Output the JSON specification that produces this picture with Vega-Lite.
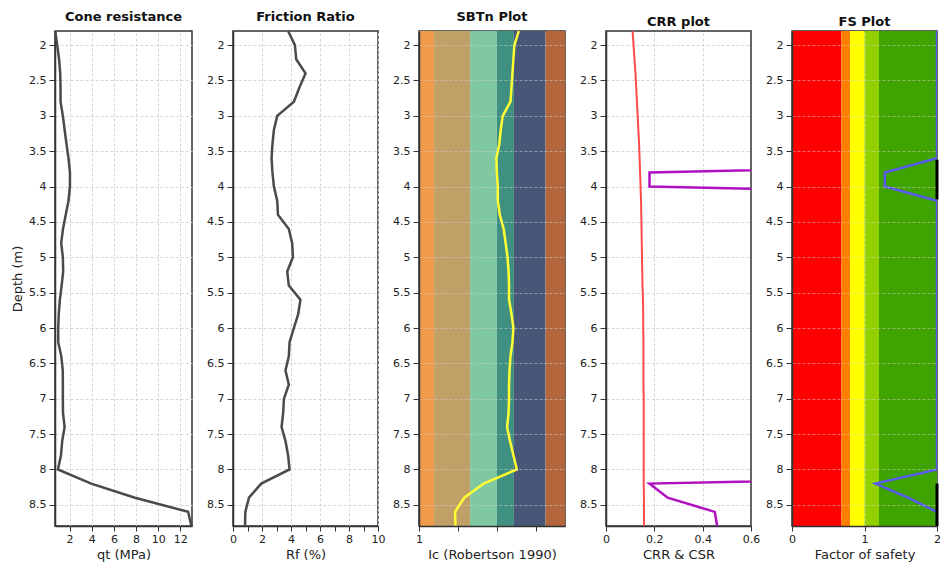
{
  "$schema": "https://vega.github.io/schema/vega-lite/v6.json",
  "background": "white",
  "padding": {"left": 10, "top": 10, "right": 0, "bottom": 0},
  "bounds": "flush",
  "spacing": 41,
  "resolve": {"scale": {"color": "independent"}},
  "config": {
    "font": "DejaVu Sans",
    "view": {"stroke": "#333", "strokeWidth": 1.5},
    "title": {"font": "DejaVu Sans", "fontSize": 13, "fontWeight": "bold", "color": "#111", "offset": 2, "baseline": "alphabetic"},
    "axis": {
      "labelFont": "DejaVu Sans", "labelFontSize": 11, "labelColor": "#222",
      "titleFont": "DejaVu Sans", "titleFontSize": 13, "titleFontWeight": "normal", "titleColor": "#222",
      "gridColor": "#d6d6d6", "gridDash": [3, 2], "gridWidth": 1,
      "domainColor": "#333", "domainWidth": 1.5, "tickColor": "#333", "tickSize": 5, "labelPadding": 2,
      "labelOverlap": false, "labelFlush": false, "format": "~r"
    },
    "axisY": {"tickSize": 6, "labelPadding": 3}
  },
  "datasets": {
    "cpt": [
      {"d": 1.8, "qt": 0.7, "rf": 3.8, "ic": 3.05, "csr": 0.110, "crr": 3, "fs": 2},
      {"d": 2.0, "qt": 0.88, "rf": 4.27, "ic": 2.96, "csr": 0.114, "crr": 3, "fs": 2},
      {"d": 2.2, "qt": 1.05, "rf": 4.36, "ic": 2.94, "csr": 0.118, "crr": 3, "fs": 2},
      {"d": 2.4, "qt": 1.15, "rf": 5.0, "ic": 2.92, "csr": 0.122, "crr": 3, "fs": 2},
      {"d": 2.6, "qt": 1.18, "rf": 4.58, "ic": 2.9, "csr": 0.125, "crr": 3, "fs": 2},
      {"d": 2.8, "qt": 1.18, "rf": 4.2, "ic": 2.88, "csr": 0.128, "crr": 3, "fs": 2},
      {"d": 3.0, "qt": 1.39, "rf": 3.05, "ic": 2.72, "csr": 0.131, "crr": 3, "fs": 2},
      {"d": 3.2, "qt": 1.55, "rf": 2.82, "ic": 2.68, "csr": 0.134, "crr": 3, "fs": 2},
      {"d": 3.4, "qt": 1.72, "rf": 2.72, "ic": 2.65, "csr": 0.137, "crr": 3, "fs": 2},
      {"d": 3.6, "qt": 1.9, "rf": 2.66, "ic": 2.59, "csr": 0.139, "crr": 3, "fs": 2},
      {"d": 3.8, "qt": 2.03, "rf": 2.72, "ic": 2.6, "csr": 0.141, "crr": 0.18, "fs": 1.28},
      {"d": 4.0, "qt": 2.03, "rf": 2.82, "ic": 2.62, "csr": 0.143, "crr": 0.18, "fs": 1.28},
      {"d": 4.2, "qt": 1.9, "rf": 3.05, "ic": 2.62, "csr": 0.145, "crr": 3, "fs": 2},
      {"d": 4.4, "qt": 1.65, "rf": 3.1, "ic": 2.66, "csr": 0.146, "crr": 3, "fs": 2},
      {"d": 4.6, "qt": 1.4, "rf": 3.85, "ic": 2.74, "csr": 0.147, "crr": 3, "fs": 2},
      {"d": 4.8, "qt": 1.24, "rf": 4.08, "ic": 2.78, "csr": 0.148, "crr": 3, "fs": 2},
      {"d": 5.0, "qt": 1.39, "rf": 4.13, "ic": 2.82, "csr": 0.149, "crr": 3, "fs": 2},
      {"d": 5.2, "qt": 1.42, "rf": 3.74, "ic": 2.84, "csr": 0.150, "crr": 3, "fs": 2},
      {"d": 5.4, "qt": 1.28, "rf": 3.85, "ic": 2.85, "csr": 0.151, "crr": 3, "fs": 2},
      {"d": 5.6, "qt": 1.12, "rf": 4.65, "ic": 2.85, "csr": 0.153, "crr": 3, "fs": 2},
      {"d": 5.8, "qt": 1.02, "rf": 4.5, "ic": 2.9, "csr": 0.154, "crr": 3, "fs": 2},
      {"d": 6.0, "qt": 0.97, "rf": 4.2, "ic": 2.94, "csr": 0.154, "crr": 3, "fs": 2},
      {"d": 6.2, "qt": 0.97, "rf": 3.9, "ic": 2.92, "csr": 0.155, "crr": 3, "fs": 2},
      {"d": 6.4, "qt": 1.25, "rf": 3.85, "ic": 2.88, "csr": 0.155, "crr": 3, "fs": 2},
      {"d": 6.6, "qt": 1.38, "rf": 3.62, "ic": 2.86, "csr": 0.155, "crr": 3, "fs": 2},
      {"d": 6.8, "qt": 1.39, "rf": 3.85, "ic": 2.85, "csr": 0.155, "crr": 3, "fs": 2},
      {"d": 7.0, "qt": 1.39, "rf": 3.51, "ic": 2.85, "csr": 0.156, "crr": 3, "fs": 2},
      {"d": 7.2, "qt": 1.4, "rf": 3.46, "ic": 2.84, "csr": 0.156, "crr": 3, "fs": 2},
      {"d": 7.4, "qt": 1.55, "rf": 3.35, "ic": 2.81, "csr": 0.156, "crr": 3, "fs": 2},
      {"d": 7.6, "qt": 1.33, "rf": 3.62, "ic": 2.87, "csr": 0.156, "crr": 3, "fs": 2},
      {"d": 7.8, "qt": 1.22, "rf": 3.8, "ic": 2.94, "csr": 0.156, "crr": 3, "fs": 2},
      {"d": 8.0, "qt": 0.94, "rf": 3.9, "ic": 3.01, "csr": 0.156, "crr": 3, "fs": 2},
      {"d": 8.2, "qt": 3.95, "rf": 1.95, "ic": 2.33, "csr": 0.156, "crr": 0.18, "fs": 1.15},
      {"d": 8.4, "qt": 7.9, "rf": 1.1, "ic": 1.93, "csr": 0.157, "crr": 0.255, "fs": 1.6},
      {"d": 8.6, "qt": 12.7, "rf": 0.85, "ic": 1.74, "csr": 0.157, "crr": 0.45, "fs": 2},
      {"d": 8.8, "qt": 13.0, "rf": 0.83, "ic": 1.75, "csr": 0.157, "crr": 0.46, "fs": 2}
    ],
    "sbt": [
      {"a": 1.0, "b": 1.31, "zone": "z1"},
      {"a": 1.31, "b": 2.05, "zone": "z2"},
      {"a": 2.05, "b": 2.6, "zone": "z3"},
      {"a": 2.6, "b": 2.95, "zone": "z4"},
      {"a": 2.95, "b": 3.6, "zone": "z5"},
      {"a": 3.6, "b": 4.0, "zone": "z6"}
    ],
    "fsb": [
      {"a": 0.0, "b": 0.68, "zone": "f1"},
      {"a": 0.68, "b": 0.8, "zone": "f2"},
      {"a": 0.8, "b": 1.0, "zone": "f3"},
      {"a": 1.0, "b": 1.2, "zone": "f4"},
      {"a": 1.2, "b": 2.0, "zone": "f5"}
    ],
    "flag": [
      {"d1": 3.62, "d2": 4.18, "x": 2},
      {"d1": 8.2, "d2": 8.8, "x": 2}
    ]
  },
  "hconcat": [
    {
      "width": 137, "height": 495,
      "title": "Cone resistance",
      "data": {"name": "cpt"},
      "mark": {"type": "line", "color": "#4a4a4a", "strokeWidth": 2.5},
      "encoding": {
        "x": {"field": "qt", "type": "quantitative", "scale": {"domain": [0.68, 13.05], "nice": false, "zero": false},
              "axis": {"values": [2, 4, 6, 8, 10, 12], "title": "qt (MPa)"}},
        "y": {"field": "d", "type": "quantitative", "scale": {"domain": [1.8, 8.8], "nice": false, "zero": false, "reverse": true},
              "axis": {"values": [2, 2.5, 3, 3.5, 4, 4.5, 5, 5.5, 6, 6.5, 7, 7.5, 8, 8.5], "title": "Depth (m)"}},
        "order": {"field": "d", "type": "quantitative"}
      }
    },
    {
      "width": 145, "height": 495,
      "title": "Friction Ratio",
      "data": {"name": "cpt"},
      "mark": {"type": "line", "color": "#4a4a4a", "strokeWidth": 2.5},
      "encoding": {
        "x": {"field": "rf", "type": "quantitative", "scale": {"domain": [0, 10], "nice": false},
              "axis": {"values": [0, 1, 2, 3, 4, 5, 6, 7, 8, 9, 10], "title": "Rf (%)",
                       "labelExpr": "datum.value % 2 === 0 ? datum.label : ''",
                       "gridOpacity": {"condition": {"test": "datum.value % 2 !== 0", "value": 0}, "value": 1}}},
        "y": {"field": "d", "type": "quantitative", "scale": {"domain": [1.8, 8.8], "nice": false, "zero": false, "reverse": true},
              "axis": {"values": [2, 2.5, 3, 3.5, 4, 4.5, 5, 5.5, 6, 6.5, 7, 7.5, 8, 8.5], "title": null}},
        "order": {"field": "d", "type": "quantitative"}
      }
    },
    {
      "width": 146, "height": 495,
      "title": "SBTn Plot",
      "layer": [
        {
          "data": {"name": "sbt"},
          "mark": {"type": "rect"},
          "encoding": {
            "x": {"field": "a", "type": "quantitative", "scale": {"domain": [1, 4], "nice": false, "zero": false},
                  "axis": {"values": [1, 1.2, 1.4, 1.6, 1.8, 2, 2.2, 2.4, 2.6, 2.8, 3, 3.2, 3.4, 3.6, 3.8, 4], "title": "Ic (Robertson 1990)", "zindex": 1,
                           "labelExpr": "abs(datum.value - round(datum.value)) < 0.01 ? datum.label : ''",
                           "gridOpacity": {"condition": {"test": "abs(datum.value - round(datum.value)) > 0.01 || datum.value < 1.5 || datum.value > 3.5", "value": 0}, "value": 0.5}}},
            "x2": {"field": "b"},
            "color": {"field": "zone", "type": "nominal", "legend": null,
                      "scale": {"domain": ["z1", "z2", "z3", "z4", "z5", "z6"], "range": ["#F09A4C", "#C0A066", "#80C8A2", "#3F9080", "#485777", "#B3663C"]}}
          }
        },
        {
          "data": {"name": "cpt"},
          "mark": {"type": "line", "color": "#FFFF33", "strokeWidth": 2.5},
          "encoding": {
            "x": {"field": "ic", "type": "quantitative"},
            "y": {"field": "d", "type": "quantitative", "scale": {"domain": [1.8, 8.8], "nice": false, "zero": false, "reverse": true},
                  "axis": {"values": [2, 2.5, 3, 3.5, 4, 4.5, 5, 5.5, 6, 6.5, 7, 7.5, 8, 8.5], "title": null, "zindex": 1, "gridOpacity": 0.5}},
            "order": {"field": "d", "type": "quantitative"}
          }
        }
      ]
    },
    {
      "width": 145, "height": 495,
      "title": "CRR plot",
      "data": {"name": "cpt"},
      "encoding": {
        "y": {"field": "d", "type": "quantitative", "scale": {"domain": [1.8, 8.8], "nice": false, "zero": false, "reverse": true},
              "axis": {"values": [2, 2.5, 3, 3.5, 4, 4.5, 5, 5.5, 6, 6.5, 7, 7.5, 8, 8.5], "title": null}},
        "order": {"field": "d", "type": "quantitative"}
      },
      "layer": [
        {
          "mark": {"type": "line", "color": "#FF4A4A", "strokeWidth": 2, "clip": true},
          "encoding": {
            "x": {"field": "csr", "type": "quantitative", "scale": {"domain": [0, 0.6], "nice": false},
                  "axis": {"values": [0, 0.1, 0.2, 0.3, 0.4, 0.5, 0.6], "title": "CRR & CSR",
                           "labelExpr": "abs(datum.value * 5 - round(datum.value * 5)) < 0.01 ? datum.label : ''",
                           "gridOpacity": {"condition": {"test": "datum.value < 0.05 || datum.value > 0.55", "value": 0}, "value": 1}}}
          }
        },
        {
          "mark": {"type": "line", "color": "#B010C0", "strokeWidth": 2.5, "clip": true},
          "encoding": {
            "x": {"field": "crr", "type": "quantitative"}
          }
        }
      ]
    },
    {
      "width": 145, "height": 495,
      "title": "FS Plot",
      "encoding": {
        "y": {"field": "d", "type": "quantitative", "scale": {"domain": [1.8, 8.8], "nice": false, "zero": false, "reverse": true},
              "axis": {"values": [2, 2.5, 3, 3.5, 4, 4.5, 5, 5.5, 6, 6.5, 7, 7.5, 8, 8.5], "title": null, "zindex": 1, "gridOpacity": 0.5}}
      },
      "layer": [
        {
          "data": {"name": "fsb"},
          "mark": {"type": "rect"},
          "encoding": {
            "x": {"field": "a", "type": "quantitative", "scale": {"domain": [0, 2], "nice": false},
                  "axis": {"values": [0, 0.25, 0.5, 0.75, 1, 1.25, 1.5, 1.75, 2], "title": "Factor of safety", "zindex": 1,
                           "labelExpr": "abs(datum.value * 2 - round(datum.value * 2)) < 0.01 ? datum.label : ''",
                           "gridOpacity": {"condition": {"test": "abs(datum.value * 2 - round(datum.value * 2)) > 0.01 || datum.value < 0.1 || datum.value > 1.9", "value": 0}, "value": 0.5}}},
            "x2": {"field": "b"},
            "y": null,
            "color": {"field": "zone", "type": "nominal", "legend": null,
                      "scale": {"domain": ["f1", "f2", "f3", "f4", "f5"], "range": ["#FF0000", "#FF8000", "#FFFF00", "#92D000", "#3FA300"]}}
          }
        },
        {
          "data": {"name": "cpt"},
          "mark": {"type": "line", "color": "#5A5AF0", "strokeWidth": 2.5, "clip": true},
          "encoding": {
            "x": {"field": "fs", "type": "quantitative"},
            "order": {"field": "d", "type": "quantitative"}
          }
        },
        {
          "data": {"name": "flag"},
          "mark": {"type": "rule", "color": "#000000", "strokeWidth": 3},
          "encoding": {
            "x": {"field": "x", "type": "quantitative"},
            "y": {"field": "d1", "type": "quantitative"},
            "y2": {"field": "d2"}
          }
        }
      ]
    }
  ]
}
